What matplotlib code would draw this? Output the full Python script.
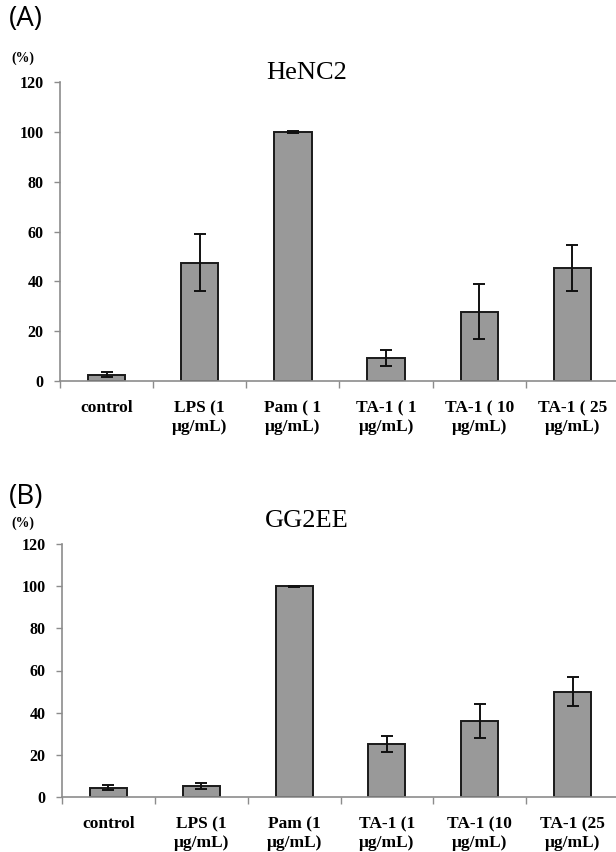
import matplotlib
matplotlib.use('Agg')
import matplotlib.pyplot as plt
import numpy as np

# data
labels_a = ['control', 'LPS (1\nμg/mL)', 'Pam ( 1\nμg/mL)', 'TA-1 ( 1\nμg/mL)',
            'TA-1 ( 10\nμg/mL)', 'TA-1 ( 25\nμg/mL)']
labels_b = ['control', 'LPS (1\nμg/mL)', 'Pam (1\nμg/mL)', 'TA-1 (1\nμg/mL)',
            'TA-1 (10\nμg/mL)', 'TA-1 (25\nμg/mL)']
vals_a = [2.4, 47.5, 100.0, 9.3, 27.8, 45.5]
err_a = [1.1, 11.5, 0.3, 3.2, 11.0, 9.3]
vals_b = [4.5, 5.1, 100.0, 25.0, 36.0, 50.0]
err_b = [1.0, 1.5, 0.3, 3.8, 8.0, 7.0]
yticks = [0, 20, 40, 60, 80, 100, 120]

serif = 'Liberation Serif'
bar_color = '#999999'
axis_color = '#8c8c8c'

fig = plt.figure(figsize=(6.16, 8.52), dpi=100)


def draw_panel(rect, vals, errs, labels, title, tag, tag_y, pct_y, title_y):
    ax = fig.add_axes(rect)
    x = np.arange(len(vals))
    ax.bar(x, vals, width=0.4, color=bar_color, edgecolor='#1a1a1a', linewidth=1.4,
           yerr=errs, error_kw=dict(ecolor='#111111', elinewidth=1.4, capsize=4, capthick=1.4))
    ax.set_xlim(-0.5, len(vals) - 0.5)
    ax.set_ylim(0, 120)
    ax.set_yticks(yticks)
    ax.set_yticklabels([str(t) for t in yticks], fontfamily=serif, fontweight='bold', fontsize=11.5)
    ax.set_xticks(x)
    ax.set_xticklabels(labels, fontfamily=serif, fontweight='bold', fontsize=12.5, linespacing=1.25)
    ax.tick_params(axis='x', which='major', length=0, pad=14)
    ax.set_xticks(np.arange(len(vals) + 1) - 0.5, minor=True)
    ax.tick_params(axis='x', which='minor', length=5, width=1, color=axis_color, direction='out')
    ax.tick_params(axis='y', length=4, width=1, color=axis_color, pad=8)
    for s in ['top', 'right']:
        ax.spines[s].set_visible(False)
    for s in ['left', 'bottom']:
        ax.spines[s].set_color(axis_color)
        ax.spines[s].set_linewidth(1.2)
    ax.spines['bottom'].set_clip_on(False)
    fig.text(0.498, title_y, title, fontfamily=serif, fontsize=19, ha='center', va='center')
    fig.text(0.014, tag_y, tag, fontfamily='Open Sans', fontsize=20, ha='left', va='center')
    fig.text(0.018, pct_y, '(%)', fontfamily=serif, fontweight='bold', fontsize=10, ha='left', va='center')
    return ax


draw_panel([60 / 616, 1 - 380.7 / 852, 559 / 616, 298.2 / 852], vals_a, err_a, labels_a,
           'HeNC2', '(A)', 1 - 19 / 852, 1 - 58 / 852, 1 - 73 / 852)
draw_panel([62 / 616, 1 - 797 / 852, 557 / 616, 253 / 852], vals_b, err_b, labels_b,
           'GG2EE', '(B)', 1 - 497 / 852, 1 - 523 / 852, 1 - 521 / 852)

fig.savefig('out.png', dpi=100)
